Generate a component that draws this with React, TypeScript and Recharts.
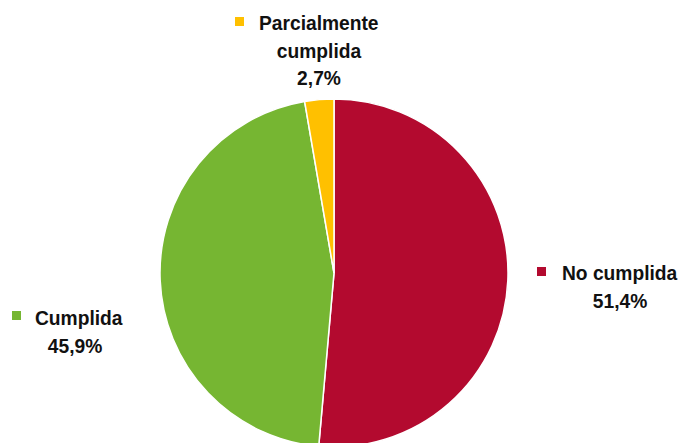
import React from "react";
import { PieChart, Pie, Cell } from "recharts";

const categories = ["No cumplida", "Cumplida", "Parcialmente cumplida"];
const shares = [51.4, 45.9, 2.7];
const labelLines = [["No cumplida"], ["Cumplida"], ["Parcialmente", "cumplida"]];

const colors = ["#B30A2F", "#76B632", "#FFC000"];

const chartData = categories.map((name, i) => ({
  name,
  value: shares[i],
}));

// label placement relative to the pie centre
const labelLayout = [
  { sq: [203, -6], first: [228, 7], center: 286 },
  { sq: [-322, 38], first: [-299, 52], center: -259 },
  { sq: [-99, -256], first: [-75, -243], center: -15 },
];

const FONT = "'Liberation Sans', Arial, sans-serif";
const SQUEEZE = 0.915;

const Txt = ({ x, y, anchor, children }: any) => (
  <text
    transform={`translate(${x},${y}) scale(${SQUEEZE},1)`}
    textAnchor={anchor}
    fontFamily={FONT}
    fontWeight="bold"
    fontSize={21}
    fill="#111"
  >
    {children}
  </text>
);

const renderLabel = (props: any) => {
  const { cx, cy, index, value } = props;
  const lay = labelLayout[index];
  const lines = labelLines[index];
  const pct = Number(value).toFixed(1).replace(".", ",") + "%";
  const lh = 27.5;
  return (
    <g key={"lbl" + index}>
      <rect
        x={cx + lay.sq[0]}
        y={cy + lay.sq[1]}
        width={9}
        height={9}
        fill={colors[index]}
      />
      {lines.map((t, k) => (
        <Txt
          key={k}
          x={k === 0 ? cx + lay.first[0] : cx + lay.center}
          y={cy + lay.first[1] + k * lh}
          anchor={k === 0 ? "start" : "middle"}
        >
          {t}
        </Txt>
      ))}
      <Txt
        x={cx + lay.center}
        y={cy + lay.first[1] + lines.length * lh}
        anchor="middle"
      >
        {pct}
      </Txt>
    </g>
  );
};

export default function App() {
  return (
    <div
      style={{
        position: "fixed",
        top: 0,
        left: 0,
        width: 680,
        height: 443,
        background: "#fff",
        overflow: "hidden",
      }}
    >
      <PieChart
        width={680}
        height={443}
        margin={{ top: 0, right: 0, bottom: 0, left: 0 }}
      >
        <Pie
          data={chartData}
          dataKey="value"
          nameKey="name"
          cx={334}
          cy={273}
          outerRadius={174}
          startAngle={90}
          endAngle={-270}
          stroke="#fff"
          strokeWidth={1.5}
          label={renderLabel}
          labelLine={false}
          isAnimationActive={false}
        >
          {chartData.map((_, i) => (
            <Cell key={i} fill={colors[i]} />
          ))}
        </Pie>
      </PieChart>
    </div>
  );
}
